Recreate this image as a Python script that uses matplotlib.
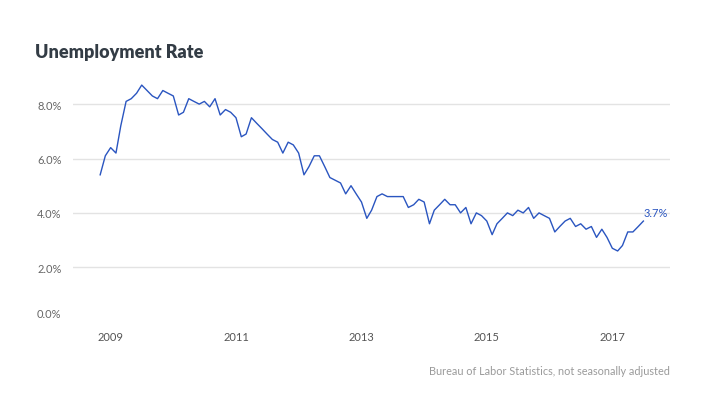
import pandas as pd
import matplotlib.pyplot as plt
import matplotlib.dates as mdates
from matplotlib.transforms import ScaledTranslation

# monthly unemployment rate, not seasonally adjusted (Nov 2008 - Jul 2017)
start_month = "2008-11-01"
rate = [
    5.4, 6.1, 6.4, 6.2, 7.2, 8.1, 8.2, 8.4, 8.7, 8.5, 8.3, 8.2,
    8.5, 8.4, 8.3, 7.6, 7.7, 8.2, 8.1, 8.0, 8.1, 7.9, 8.2, 7.6,
    7.8, 7.7, 7.5, 6.8, 6.9, 7.5, 7.3, 7.1, 6.9, 6.7, 6.6, 6.2,
    6.6, 6.5, 6.2, 5.4, 5.7, 6.1, 6.1, 5.7, 5.3, 5.2, 5.1, 4.7,
    5.0, 4.7, 4.4, 3.8, 4.1, 4.6, 4.7, 4.6, 4.6, 4.6, 4.6, 4.2,
    4.3, 4.5, 4.4, 3.6, 4.1, 4.3, 4.5, 4.3, 4.3, 4.0, 4.2, 3.6,
    4.0, 3.9, 3.7, 3.2, 3.6, 3.8, 4.0, 3.9, 4.1, 4.0, 4.2, 3.8,
    4.0, 3.9, 3.8, 3.3, 3.5, 3.7, 3.8, 3.5, 3.6, 3.4, 3.5, 3.1,
    3.4, 3.1, 2.7, 2.6, 2.8, 3.3, 3.3, 3.5, 3.7,
]
months = pd.date_range(start_month, periods=len(rate), freq="MS")
year_ticks = ["2009", "2011", "2013", "2015", "2017"]
y_ticks = [0, 2, 4, 6, 8]

line_col = "#2a55c0"

fig = plt.figure(figsize=(7.27, 4.02), dpi=100)
ax = fig.add_axes([0.1, 0.1973, 0.8216, 0.6427])

ax.plot(months, rate, color=line_col, lw=1.0)

ax.set_xlim(pd.Timestamp("2008-05-25"), pd.Timestamp("2017-12-03"))
ax.set_ylim(0, 9.5)

ax.set_xticks([pd.Timestamp(y + "-01-01") for y in year_ticks])
ax.xaxis.set_major_formatter(mdates.DateFormatter("%Y"))
ax.set_yticks(y_ticks)
ax.set_yticklabels([f"{v:.1f}%" for v in y_ticks])

for v in y_ticks[1:]:
    ax.axhline(v, color="#e3e3e3", lw=1.0, zorder=0)

for s in ax.spines.values():
    s.set_visible(False)
ax.tick_params(length=0)
ax.tick_params(axis="y", pad=8, labelsize=8, labelcolor="#666666")
ax.tick_params(axis="x", pad=7, labelsize=8, labelcolor="#555555")
for lab in ax.get_xticklabels() + ax.get_yticklabels():
    lab.set_fontfamily("Lato")

# the 0.0% label sits a bit higher than the baseline
lab0 = ax.get_yticklabels()[0]
lab0.set_transform(lab0.get_transform() + ScaledTranslation(0, 0.095, fig.dpi_scale_trans))

ax.annotate(f"{rate[-1]:.1f}%", (months[-1], rate[-1]), xytext=(0, 6.5),
            textcoords="offset points", ha="left", va="center",
            color=line_col, fontsize=8, family="Lato")

fig.text(35 / 727, 1 - 52.7 / 402, "Unemployment Rate", ha="left", va="center",
         fontsize=13, fontweight="heavy", color="#333c45", family="Lato")
fig.text(670 / 727, 1 - 371.7 / 402, "Bureau of Labor Statistics, not seasonally adjusted",
         ha="right", va="center", fontsize=7.8, color="#9a9a9a", family="Lato")

fig.savefig("out.png", dpi=100)
